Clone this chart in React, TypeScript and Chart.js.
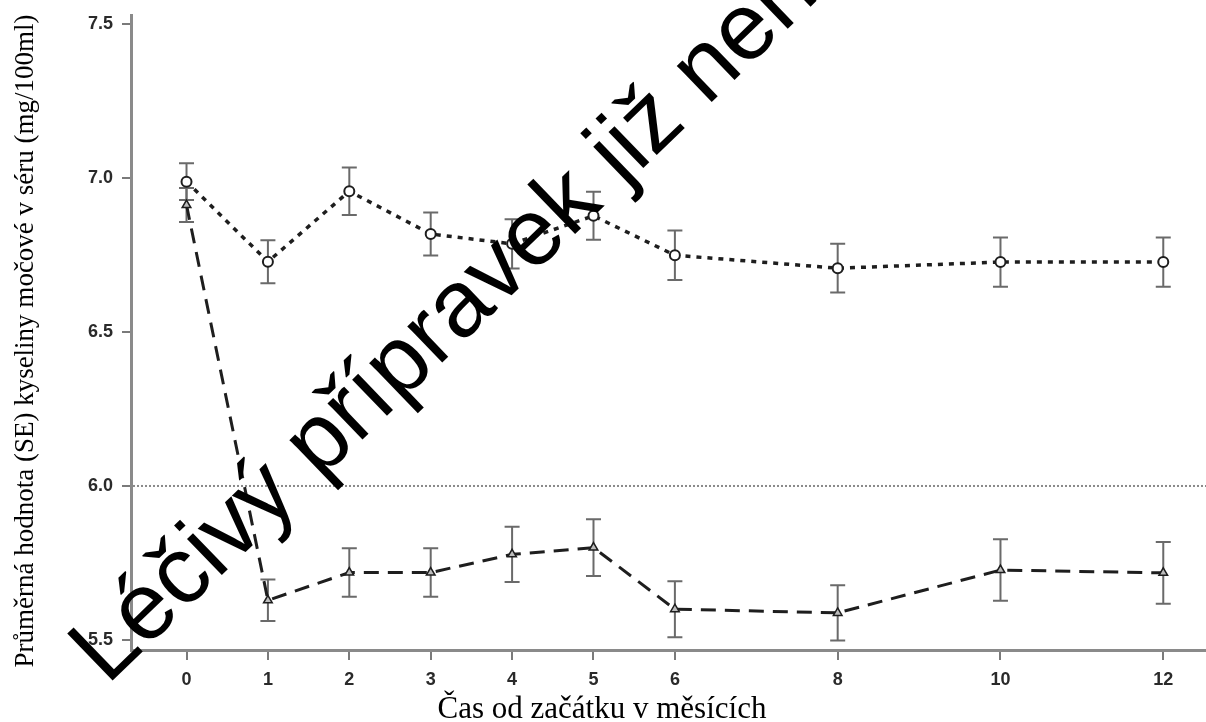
import React, { useEffect, useRef } from "react";
import { Chart, registerables } from "chart.js";

Chart.register(...registerables);

// ---- data ----
const months = [0, 1, 2, 3, 4, 5, 6, 8, 10, 12];
const xTickValues = [0, 1, 2, 3, 4, 5, 6, 8, 10, 12];
const yTickValues = [5.5, 6.0, 6.5, 7.0, 7.5];
const circleMeans = [6.988, 6.728, 6.957, 6.818, 6.786, 6.877, 6.749, 6.707, 6.727, 6.727];
const circleSE = [0.06, 0.07, 0.077, 0.07, 0.08, 0.078, 0.08, 0.079, 0.08, 0.08];
const triangleMeans = [6.912, 5.629, 5.719, 5.719, 5.778, 5.8, 5.6, 5.588, 5.727, 5.718];
const triangleSE = [0.055, 0.067, 0.079, 0.079, 0.09, 0.092, 0.091, 0.09, 0.1, 0.1];
const targetLevel = 6.0;

const xTitle = "Čas od začátku v měsících";
const yTitle = "Průměrná hodnota (SE) kyseliny močové v séru (mg/100ml)";
const watermark = "Léčivý přípravek již není registrován";

const errorBarPlugin = {
  id: "errorBars",
  beforeDatasetsDraw(chart: any) {
    const { ctx, scales, chartArea } = chart;
    const x = scales.x;
    const y = scales.y;
    ctx.save();
    // target reference line
    ctx.strokeStyle = "#8a8a8a";
    ctx.lineWidth = 2;
    ctx.setLineDash([2, 2]);
    const ty = y.getPixelForValue(targetLevel);
    ctx.beginPath();
    ctx.moveTo(chartArea.left + 2, ty);
    ctx.lineTo(chartArea.right, ty);
    ctx.stroke();
    ctx.setLineDash([]);
    // error bars
    ctx.strokeStyle = "#6a6a6a";
    ctx.lineWidth = 2;
    const draw = (means: number[], se: number[]) => {
      months.forEach((m, i) => {
        const px = x.getPixelForValue(m);
        const top = y.getPixelForValue(means[i] + se[i]);
        const bot = y.getPixelForValue(means[i] - se[i]);
        ctx.beginPath();
        ctx.moveTo(px, top);
        ctx.lineTo(px, bot);
        ctx.moveTo(px - 7.5, top);
        ctx.lineTo(px + 7.5, top);
        ctx.moveTo(px - 7.5, bot);
        ctx.lineTo(px + 7.5, bot);
        ctx.stroke();
      });
    };
    draw(triangleMeans, triangleSE);
    draw(circleMeans, circleSE);
    ctx.restore();
  },
};

const textPlugin = {
  id: "texts",
  afterDraw(chart: any) {
    const { ctx } = chart;
    ctx.save();
    ctx.fillStyle = "#000";
    // y title
    ctx.save();
    ctx.translate(33, 341);
    ctx.rotate(-Math.PI / 2);
    ctx.font = "27px 'Liberation Serif', 'Times New Roman', serif";
    ctx.textAlign = "center";
    ctx.textBaseline = "alphabetic";
    ctx.fillText(yTitle, 0, 0);
    ctx.restore();
    // x title
    ctx.font = "31px 'Liberation Serif', 'Times New Roman', serif";
    ctx.textAlign = "center";
    ctx.textBaseline = "alphabetic";
    ctx.fillText(xTitle, 602, 718);
    // watermark
    ctx.save();
    ctx.translate(107, 686);
    ctx.rotate((-44 * Math.PI) / 180);
    ctx.font = "95px 'Liberation Sans', Arial, sans-serif";
    ctx.textAlign = "left";
    ctx.textBaseline = "alphabetic";
    ctx.fillText(watermark, 0, 0);
    ctx.restore();
    ctx.restore();
  },
};

export default function App() {
  const canvasRef = useRef<HTMLCanvasElement | null>(null);

  useEffect(() => {
    const canvas = canvasRef.current;
    if (!canvas) return;
    const tickFont = { family: "'Liberation Sans', Arial, sans-serif", size: 18, weight: "bold" as const };
    const chart = new Chart(canvas, {
      type: "line",
      data: {
        datasets: [
          {
            label: "circle",
            data: months.map((m, i) => ({ x: m, y: circleMeans[i] })),
            borderColor: "#1e1e1e",
            borderWidth: 3.5,
            borderDash: [5, 6],
            pointStyle: "circle",
            pointRadius: 5,
            pointBorderWidth: 2,
            pointBorderColor: "#1e1e1e",
            pointBackgroundColor: "#ffffff",
            tension: 0,
            fill: false,
          },
          {
            label: "triangle",
            data: months.map((m, i) => ({ x: m, y: triangleMeans[i] })),
            borderColor: "#1e1e1e",
            borderWidth: 3,
            borderDash: [15, 9],
            pointStyle: "triangle",
            pointRadius: 5,
            pointBorderWidth: 1.5,
            pointBorderColor: "#1e1e1e",
            pointBackgroundColor: "#bdbdbd",
            tension: 0,
            fill: false,
          },
        ],
      },
      options: {
        responsive: false,
        animation: false,
        devicePixelRatio: 1,
        layout: { autoPadding: false, padding: { left: 0, right: 0, top: 15, bottom: 0 } },
        plugins: {
          legend: { display: false },
          tooltip: { enabled: false },
        },
        scales: {
          x: {
            type: "linear",
            min: -0.682,
            max: 12.525,
            afterBuildTicks: (scale: any) => {
              scale.ticks = xTickValues.map((v) => ({ value: v }));
            },
            afterFit: (scale: any) => {
              scale.height = 72;
              scale.paddingLeft = 0;
              scale.paddingRight = 0;
            },
            grid: {
              drawOnChartArea: false,
              drawTicks: true,
              tickLength: 10,
              color: "#7a7a7a",
              lineWidth: 2,
            },
            border: { display: true, color: "#8a8a8a", width: 3 },
            ticks: {
              autoSkip: false,
              maxRotation: 0,
              padding: 9,
              color: "#2a2a2a",
              font: tickFont,
              callback: (v: any) => String(v),
            },
          },
          y: {
            type: "linear",
            min: 5.4675,
            max: 7.529,
            afterBuildTicks: (scale: any) => {
              scale.ticks = yTickValues.map((v) => ({ value: v }));
            },
            afterFit: (scale: any) => {
              scale.width = 131;
              scale.paddingTop = 0;
              scale.paddingBottom = 0;
            },
            grid: {
              drawOnChartArea: false,
              drawTicks: true,
              tickLength: 9,
              color: "#7a7a7a",
              lineWidth: 2,
            },
            border: { display: true, color: "#8a8a8a", width: 3 },
            ticks: {
              autoSkip: false,
              padding: 9,
              color: "#2a2a2a",
              font: tickFont,
              callback: (v: any) => Number(v).toFixed(1),
            },
          },
        },
      },
      plugins: [errorBarPlugin, textPlugin],
    });
    return () => chart.destroy();
  }, []);

  return (
    <div style={{ position: "absolute", left: 0, top: 0, width: 1206, height: 722, background: "#fff" }}>
      <canvas ref={canvasRef} width={1206} height={722} style={{ display: "block", width: 1206, height: 722 }} />
    </div>
  );
}
